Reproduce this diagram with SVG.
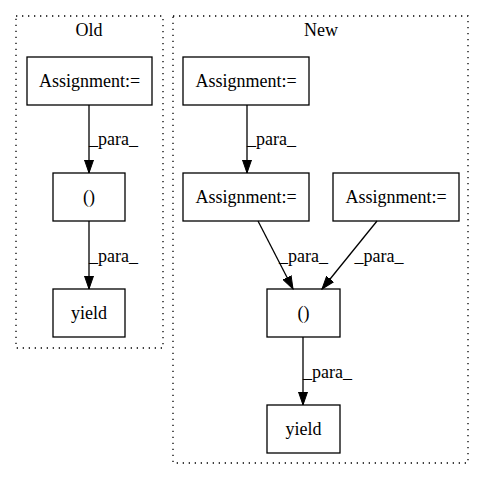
<svg xmlns="http://www.w3.org/2000/svg" width="485" height="480" viewBox="0 0 485 480">
<defs>
<marker id="ah" markerUnits="userSpaceOnUse" markerWidth="14" markerHeight="10" refX="13" refY="5" orient="auto">
<path d="M0,0.5 L13,5 L0,9.5 z" fill="#000" stroke="#000" stroke-width="1"/>
</marker>
</defs>
<style>
text { font-family: "Liberation Serif", "Times New Roman", serif; font-size: 18px; fill: #000; }
.n rect { fill: #fff; stroke: #000; stroke-width: 1.3; }
.n text, .c text { text-anchor: middle; }
.c { fill: none; stroke: #000; stroke-width: 1.3; stroke-dasharray: 1.3,4.7; }
.e line { stroke: #000; stroke-width: 1.3; marker-end: url(#ah); }
.e text { text-anchor: middle; }
</style>
<rect width="485" height="480" fill="#fff"/>
<g id="cluster_old">
<rect class="c" x="16" y="16" width="147" height="332"/>
<text x="89" y="36" text-anchor="middle">Old</text>
</g>
<g id="cluster_new">
<rect class="c" x="173" y="16" width="295" height="447"/>
<text x="321" y="36" text-anchor="middle">New</text>
</g>
<g id="old_assign" class="n"><rect x="27" y="57" width="125" height="48"/><text x="89.5" y="87">Assignment:=</text></g>
<g id="old_call" class="n"><rect x="53" y="173" width="72" height="48"/><text x="89" y="203">()</text></g>
<g id="old_yield" class="n"><rect x="53" y="289" width="72" height="48"/><text x="89" y="319">yield</text></g>
<g id="new_assign1" class="n"><rect x="183" y="57" width="126" height="48"/><text x="246" y="87">Assignment:=</text></g>
<g id="new_assign2" class="n"><rect x="183" y="173" width="126" height="48"/><text x="246" y="203">Assignment:=</text></g>
<g id="new_assign3" class="n"><rect x="333" y="173" width="126" height="48"/><text x="396" y="203">Assignment:=</text></g>
<g id="new_call" class="n"><rect x="267" y="289" width="73" height="48"/><text x="303.5" y="319">()</text></g>
<g id="new_yield" class="n"><rect x="267" y="405" width="73" height="48"/><text x="303.5" y="435">yield</text></g>
<g id="connectors" class="e">
<line x1="89" y1="105" x2="89" y2="173"/><text x="113.5" y="145">_para_</text>
<line x1="89" y1="221" x2="89" y2="289"/><text x="113.5" y="262">_para_</text>
<line x1="247" y1="105" x2="247" y2="173"/><text x="271.5" y="145">_para_</text>
<line x1="258" y1="221" x2="293" y2="289"/><text x="303.5" y="262">_para_</text>
<line x1="377" y1="221" x2="322" y2="289"/><text x="379" y="262">_para_</text>
<line x1="303" y1="337" x2="303" y2="405"/><text x="327.5" y="378">_para_</text>
</g>
</svg>
